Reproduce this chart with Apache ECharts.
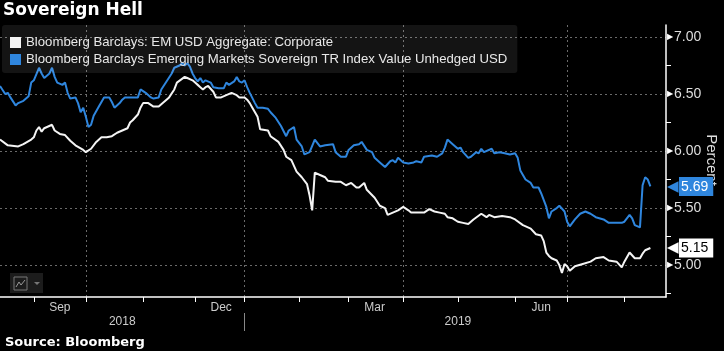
<!DOCTYPE html>
<html><head><meta charset="utf-8">
<script src="https://cdn.jsdelivr.net/npm/echarts@6/dist/echarts.min.js"></script>
<style>html,body{margin:0;padding:0;background:#000;}#c{width:724px;height:351px;}</style>
</head><body><div id="c"></div>
<script>
// ---- axis domain (trading days) ----
const startDay = '2018-08-15';
const endDay = '2019-08-23';
const holidays = ['2018-10-08','2018-11-12','2018-11-22','2018-12-05','2018-12-25','2019-01-01','2019-01-21','2019-02-18','2019-04-19','2019-05-27','2019-07-04'];
// ---- tick labels ----
const monthLabels = [['2018-09-17','Sep'],['2018-12-18','Dec'],['2019-03-15','Mar'],['2019-06-17','Jun']];
const yearLabels = [['2018-10-22','2018'],['2019-05-01','2019']];
const yearBreaks = ['2019-01-02'];
const gridDates = ['2018-10-01','2019-01-02','2019-04-01','2019-07-01'];
const yMajorTicks = [5.00, 5.50, 6.00, 6.50, 7.00];
const yMinorTicks = [4.75, 5.25, 5.75, 6.25, 6.75];
const yAxisTitle = 'Percent';
// ---- series ----
const corpName = 'Bloomberg Barclays: EM USD Aggregate: Corporate';
const sovName = 'Bloomberg Barclays Emerging Markets Sovereign TR Index Value Unhedged USD';
const corpData = [
['2018-08-15',6.10],['2018-08-20',6.05],['2018-08-24',6.04],['2018-08-28',6.06],['2018-08-31',6.10],
['2018-09-03',6.12],['2018-09-04',6.18],['2018-09-05',6.21],['2018-09-06',6.17],['2018-09-07',6.20],
['2018-09-12',6.23],['2018-09-13',6.18],['2018-09-17',6.15],['2018-09-19',6.14],['2018-09-21',6.09],
['2018-09-25',6.05],['2018-09-28',6.01],['2018-10-01',5.99],['2018-10-03',6.02],['2018-10-05',6.08],
['2018-10-10',6.12],['2018-10-12',6.12],['2018-10-16',6.13],['2018-10-18',6.16],['2018-10-22',6.18],
['2018-10-24',6.20],['2018-10-25',6.25],['2018-10-26',6.27],['2018-10-30',6.32],['2018-10-31',6.38],
['2018-11-01',6.42],['2018-11-05',6.42],['2018-11-07',6.39],['2018-11-09',6.39],['2018-11-14',6.43],
['2018-11-16',6.47],['2018-11-20',6.54],['2018-11-21',6.60],['2018-11-27',6.65],['2018-11-28',6.64],
['2018-11-30',6.62],['2018-12-03',6.60],['2018-12-04',6.58],['2018-12-06',6.56],['2018-12-07',6.54],
['2018-12-10',6.56],['2018-12-11',6.57],['2018-12-13',6.52],['2018-12-14',6.47],['2018-12-18',6.47],
['2018-12-20',6.49],['2018-12-24',6.51],['2018-12-27',6.49],['2018-12-28',6.47],['2019-01-02',6.47],
['2019-01-03',6.45],['2019-01-04',6.42],['2019-01-07',6.38],['2019-01-09',6.30],['2019-01-10',6.19],
['2019-01-15',6.18],['2019-01-16',6.13],['2019-01-22',6.08],['2019-01-24',6.01],['2019-01-25',5.95],
['2019-01-29',5.92],['2019-01-31',5.82],['2019-02-04',5.77],['2019-02-06',5.71],['2019-02-07',5.61],
['2019-02-08',5.48],['2019-02-11',5.81],['2019-02-13',5.79],['2019-02-15',5.77],['2019-02-19',5.74],
['2019-02-22',5.73],['2019-02-26',5.73],['2019-02-28',5.70],['2019-03-04',5.72],['2019-03-06',5.68],
['2019-03-07',5.68],['2019-03-11',5.72],['2019-03-12',5.66],['2019-03-15',5.59],['2019-03-19',5.52],
['2019-03-21',5.50],['2019-03-22',5.44],['2019-03-26',5.46],['2019-03-28',5.48],['2019-04-01',5.51],
['2019-04-03',5.48],['2019-04-04',5.46],['2019-04-09',5.46],['2019-04-11',5.46],['2019-04-15',5.49],
['2019-04-17',5.47],['2019-04-22',5.46],['2019-04-24',5.45],['2019-04-25',5.42],['2019-04-29',5.41],
['2019-05-01',5.38],['2019-05-03',5.37],['2019-05-07',5.36],['2019-05-09',5.40],['2019-05-14',5.45],
['2019-05-16',5.42],['2019-05-17',5.44],['2019-05-21',5.42],['2019-05-24',5.43],['2019-05-30',5.42],
['2019-06-03',5.40],['2019-06-06',5.35],['2019-06-11',5.32],['2019-06-13',5.27],['2019-06-17',5.26],
['2019-06-18',5.21],['2019-06-19',5.11],['2019-06-20',5.08],['2019-06-21',5.06],['2019-06-25',5.04],
['2019-06-26',5.00],['2019-06-27',4.93],['2019-06-28',5.01],['2019-07-01',4.99],['2019-07-02',4.95],
['2019-07-05',4.99],['2019-07-10',5.01],['2019-07-15',5.03],['2019-07-17',5.06],['2019-07-22',5.07],
['2019-07-24',5.04],['2019-07-29',5.03],['2019-07-31',4.98],['2019-08-01',5.03],['2019-08-05',5.11],
['2019-08-07',5.06],['2019-08-09',5.06],['2019-08-12',5.10],['2019-08-13',5.13],['2019-08-15',5.15]
];
const sovData = [
['2018-08-15',6.57],['2018-08-17',6.50],['2018-08-20',6.51],['2018-08-21',6.47],['2018-08-23',6.40],
['2018-08-24',6.42],['2018-08-28',6.44],['2018-08-30',6.48],['2018-08-31',6.60],['2018-09-03',6.62],
['2018-09-05',6.73],['2018-09-06',6.68],['2018-09-07',6.64],['2018-09-11',6.68],['2018-09-12',6.73],
['2018-09-13',6.65],['2018-09-14',6.60],['2018-09-18',6.58],['2018-09-19',6.60],['2018-09-20',6.51],
['2018-09-21',6.46],['2018-09-25',6.47],['2018-09-26',6.42],['2018-09-27',6.34],['2018-09-28',6.38],
['2018-10-01',6.30],['2018-10-02',6.21],['2018-10-03',6.23],['2018-10-04',6.31],['2018-10-09',6.39],
['2018-10-10',6.43],['2018-10-11',6.47],['2018-10-15',6.47],['2018-10-16',6.43],['2018-10-17',6.38],
['2018-10-19',6.42],['2018-10-22',6.45],['2018-10-23',6.47],['2018-10-24',6.47],['2018-10-26',6.47],
['2018-10-30',6.47],['2018-10-31',6.54],['2018-11-02',6.51],['2018-11-06',6.47],['2018-11-07',6.46],
['2018-11-09',6.47],['2018-11-13',6.54],['2018-11-15',6.61],['2018-11-19',6.68],['2018-11-20',6.73],
['2018-11-23',6.75],['2018-11-26',6.77],['2018-11-27',6.75],['2018-11-28',6.77],['2018-11-29',6.74],
['2018-11-30',6.68],['2018-12-03',6.64],['2018-12-04',6.61],['2018-12-06',6.64],['2018-12-07',6.60],
['2018-12-10',6.62],['2018-12-12',6.60],['2018-12-13',6.56],['2018-12-17',6.55],['2018-12-19',6.55],
['2018-12-20',6.60],['2018-12-21',6.58],['2018-12-26',6.61],['2018-12-27',6.65],['2018-12-28',6.61],
['2018-12-31',6.60],['2019-01-02',6.62],['2019-01-03',6.56],['2019-01-04',6.51],['2019-01-08',6.42],
['2019-01-09',6.38],['2019-01-11',6.38],['2019-01-15',6.37],['2019-01-16',6.34],['2019-01-18',6.29],
['2019-01-23',6.22],['2019-01-25',6.13],['2019-01-28',6.18],['2019-01-30',6.21],['2019-01-31',6.10],
['2019-02-04',6.04],['2019-02-05',5.97],['2019-02-07',5.99],['2019-02-11',6.10],['2019-02-13',6.04],
['2019-02-15',6.05],['2019-02-21',6.06],['2019-02-22',5.99],['2019-02-26',5.95],['2019-02-28',5.95],
['2019-03-01',6.01],['2019-03-05',6.05],['2019-03-07',6.06],['2019-03-08',6.08],['2019-03-12',6.01],
['2019-03-14',5.99],['2019-03-15',5.94],['2019-03-19',5.90],['2019-03-21',5.86],['2019-03-25',5.91],
['2019-03-26',5.92],['2019-03-27',5.90],['2019-03-28',5.94],['2019-04-01',5.90],['2019-04-03',5.89],
['2019-04-05',5.90],['2019-04-08',5.91],['2019-04-10',5.90],['2019-04-11',5.95],['2019-04-16',5.96],
['2019-04-18',5.95],['2019-04-23',5.98],['2019-04-24',6.03],['2019-04-25',6.10],['2019-04-29',6.06],
['2019-05-01',6.02],['2019-05-02',6.03],['2019-05-03',5.99],['2019-05-07',5.94],['2019-05-08',5.95],
['2019-05-10',5.99],['2019-05-13',5.98],['2019-05-14',6.02],['2019-05-15',5.99],['2019-05-20',6.02],
['2019-05-21',5.98],['2019-05-23',5.99],['2019-05-28',5.98],['2019-05-30',5.97],['2019-06-03',5.98],
['2019-06-04',5.94],['2019-06-05',5.83],['2019-06-07',5.75],['2019-06-11',5.72],['2019-06-12',5.68],
['2019-06-14',5.68],['2019-06-17',5.63],['2019-06-19',5.51],['2019-06-20',5.41],['2019-06-21',5.47],
['2019-06-25',5.50],['2019-06-26',5.52],['2019-06-28',5.47],['2019-07-01',5.38],['2019-07-02',5.34],
['2019-07-05',5.40],['2019-07-09',5.45],['2019-07-11',5.47],['2019-07-15',5.45],['2019-07-17',5.42],
['2019-07-22',5.40],['2019-07-24',5.37],['2019-07-29',5.37],['2019-07-31',5.37],['2019-08-01',5.38],
['2019-08-05',5.44],['2019-08-06',5.41],['2019-08-07',5.35],['2019-08-09',5.33],['2019-08-12',5.70],
['2019-08-13',5.77],['2019-08-14',5.75],['2019-08-15',5.69]
];

const WHITE = '#f4f4f4';
const BLUE = '#2f86de';

function buildDays() {
  const out = [];
  const p = s => { const a = s.split('-').map(Number); return Date.UTC(a[0], a[1]-1, a[2]); };
  for (let t = p(startDay); t <= p(endDay); t += 86400000) {
    const d = new Date(t), wd = d.getUTCDay(), s = d.toISOString().slice(0,10);
    if (wd !== 0 && wd !== 6 && holidays.indexOf(s) < 0) out.push(s);
  }
  return out;
}
const days = buildDays();
const monthStarts = new Set();
days.forEach((d, i) => { if (i > 0 && d.slice(0,7) !== days[i-1].slice(0,7)) monthStarts.add(d); });
const monthMap = Object.fromEntries(monthLabels);
const yearMap = Object.fromEntries(yearLabels);
const gridSet = new Set(gridDates);
const breakSet = new Set(yearBreaks);
const corpLast = corpData[corpData.length-1][1];
const sovLast = sovData[sovData.length-1][1];

const chart = echarts.init(document.getElementById('c'), null, {renderer:'canvas'});
chart.setOption({
  backgroundColor: '#000',
  animation: false,
  textStyle: {fontFamily: 'Liberation Sans'},
  title: [
    {text: 'Sovereign Hell', left: 1, top: 0, padding: 2,
     textStyle: {fontFamily: 'DejaVu Sans', fontWeight: 'bold', fontSize: 17, color: '#fff'}},
    {text: 'Source: Bloomberg', left: 3, top: 334, padding: 2,
     textStyle: {fontFamily: 'DejaVu Sans', fontWeight: 'bold', fontSize: 13, color: '#fff'}}
  ],
  legend: {
    orient: 'vertical', left: 2, top: 25, icon: 'rect', itemWidth: 11, itemHeight: 11, itemGap: 4,
    padding: [11, 10, 7, 8], backgroundColor: 'rgba(255,255,255,0.08)', borderRadius: 3,
    textStyle: {color: '#e8e8e8', fontSize: 13.2, fontFamily: 'Liberation Sans'},
    data: [corpName, sovName]
  },
  grid: {left: 0, right: 58, top: 25, bottom: 54, outerBoundsMode: 'none', containLabel: false},
  xAxis: [
    {type: 'category', data: days, boundaryGap: false,
     axisLine: {lineStyle: {color: '#fff', width: 1.5}},
     axisTick: {interval: (i, v) => monthStarts.has(v), length: 5, lineStyle: {color: '#fff'}},
     axisLabel: {interval: (i, v) => monthMap[v] !== undefined, formatter: v => monthMap[v] || '',
                 color: '#ccc', fontSize: 12, margin: 5},
     splitLine: {show: true, interval: (i, v) => gridSet.has(v),
                 lineStyle: {color: '#6a6a6a', type: [2, 3], width: 1}}},
    {type: 'category', data: days, boundaryGap: false, position: 'bottom', offset: 16,
     axisLine: {show: false},
     axisTick: {show: true, interval: (i, v) => breakSet.has(v), length: 18, lineStyle: {color: '#888'}},
     axisLabel: {interval: (i, v) => yearMap[v] !== undefined, formatter: v => yearMap[v] || '',
                 color: '#ccc', fontSize: 12, margin: 3},
     splitLine: {show: false}}
  ],
  yAxis: [
    {type: 'value', position: 'right', min: 4.72, max: 7.105,
     axisLine: {show: true, lineStyle: {color: '#fff', width: 1.5}},
     axisTick: {show: false, customValues: yMajorTicks},
     axisLabel: {customValues: yMajorTicks, margin: 1, color: '#ddd', fontSize: 14,
                 formatter: v => '{t|\u25B6}' + v.toFixed(2),
                 rich: {t: {fontSize: 8, color: '#fff', padding: [0, 1, 0, 0]}}},
     splitLine: {show: true, lineStyle: {color: '#6a6a6a', type: [2, 3], width: 1}}},
    {type: 'value', position: 'right', min: 4.72, max: 7.105,
     axisLine: {show: false}, splitLine: {show: false},
     axisTick: {show: true, customValues: yMinorTicks, length: 5, lineStyle: {color: '#fff'}},
     axisLabel: {customValues: [corpLast, sovLast], margin: 1, fontSize: 14,
                 formatter: v => Math.abs(v - sovLast) < 1e-9
                   ? '{ba|\u25C0}{b|' + v.toFixed(2) + '}'
                   : '{wa|\u25C0}{w|' + v.toFixed(2) + '}',
                 rich: {
                   ba: {color: BLUE, fontSize: 15, padding: [0, 0, 0, 0]},
                   b: {backgroundColor: BLUE, color: '#fff', fontSize: 14, padding: [3, 5, 2, 2]},
                   wa: {color: '#fff', fontSize: 15, padding: [0, 0, 0, 0]},
                   w: {backgroundColor: '#fff', color: '#000', fontSize: 14, padding: [3, 5, 2, 2]}
                 }}}
  ],
  graphic: [
    {type: 'text', x: 711, y: 160, rotation: -Math.PI / 2,
     style: {text: yAxisTitle, fill: '#ddd', font: '15px "Liberation Sans"', align: 'center', verticalAlign: 'middle'}},
    {type: 'rect', shape: {x: 10, y: 273, width: 33, height: 20}, style: {fill: '#1c1c1c'}},
    {type: 'rect', shape: {x: 14, y: 277, width: 13, height: 13}, style: {fill: 'none', stroke: '#777', lineWidth: 1}},
    {type: 'polyline', shape: {points: [[16, 287], [19, 282], [21, 285], [25, 280]]}, style: {stroke: '#999', lineWidth: 1, fill: 'none'}},
    {type: 'polygon', shape: {points: [[34, 282], [40, 282], [37, 285]]}, style: {fill: '#777'}}
  ],
  series: [
    {name: sovName, type: 'line', data: sovData, showSymbol: false, symbol: 'none',
     xAxisIndex: 0, yAxisIndex: 0, lineStyle: {color: BLUE, width: 2}, itemStyle: {color: BLUE}, z: 2},
    {name: corpName, type: 'line', data: corpData, showSymbol: false, symbol: 'none',
     xAxisIndex: 0, yAxisIndex: 0, lineStyle: {color: WHITE, width: 2}, itemStyle: {color: WHITE}, z: 3}
  ]
});
</script></body></html>
